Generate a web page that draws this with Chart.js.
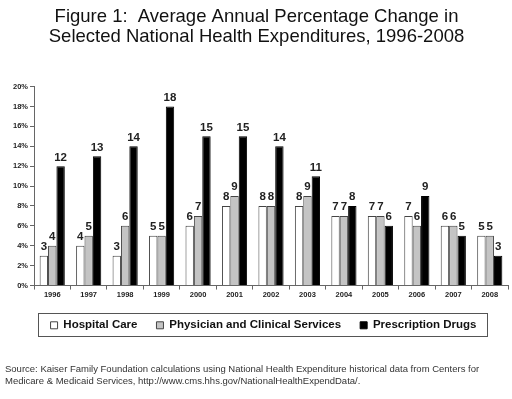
<!doctype html>
<html lang="en">
<head>
<meta charset="utf-8">
<style>
  html, body { margin: 0; padding: 0; background: #fff; }
  #wrap { width: 512px; height: 399px; position: relative; }
</style>
</head>
<body>
<div id="wrap"><canvas id="healthChart"></canvas></div>

<script src="https://cdn.jsdelivr.net/npm/chart.js"></script>
<script>
  // data
  var years = ['1996', '1997', '1998', '1999', '2000', '2001', '2002', '2003', '2004', '2005', '2006', '2007', '2008'];
  var hospitalCare = [3, 4, 3, 5, 6, 8, 8, 8, 7, 7, 7, 6, 5];
  var physicianServices = [4, 5, 6, 5, 7, 9, 8, 9, 7, 7, 6, 6, 5];
  var prescriptionDrugs = [12, 13, 14, 18, 15, 15, 14, 11, 8, 6, 9, 5, 3];
  var seriesNames = ['Hospital Care', 'Physician and Clinical Services', 'Prescription Drugs'];
  var titleLines = ['Figure 1:  Average Annual Percentage Change in', 'Selected National Health Expenditures, 1996-2008'];
  var sourceLines = [
    'Source: Kaiser Family Foundation calculations using National Health Expenditure historical data from Centers for',
    'Medicare & Medicaid Services, http://www.cms.hhs.gov/NationalHealthExpendData/.'
  ];

  // value labels over each bar
  var barValues = {
    id: 'barValues',
    afterDatasetsDraw: function(chart) {
      var ctx = chart.ctx;
      ctx.save();
      ctx.font = 'bold 11.5px Arial, "Liberation Sans", sans-serif';
      ctx.fillStyle = '#222';
      ctx.textAlign = 'center';
      ctx.textBaseline = 'bottom';
      chart.data.datasets.forEach(function(ds, i) {
        chart.getDatasetMeta(i).data.forEach(function(bar, j) {
          ctx.fillText(ds.data[j], bar.x, bar.y - 3);
        });
      });
      ctx.restore();
    }
  };

  // nudge the legend a little to the right, then frame it
  var legendFrame = {
    id: 'legendFrame',
    afterLayout: function(chart) {
      if (chart.legend) {
        chart.legend.left += 7;
        chart.legend.right += 7;
      }
    },
    afterDraw: function(chart) {
      var lg = chart.legend;
      if (!lg || !lg.legendItems.length) return;
      var first = lg.legendHitBoxes[0];
      var last = lg.legendHitBoxes[lg.legendHitBoxes.length - 1];
      var ctx = chart.ctx;
      ctx.save();
      ctx.strokeStyle = '#555';
      ctx.lineWidth = 1;
      var x0 = Math.round(first.left - 13) + 0.5;
      var x1 = Math.round(last.left + last.width + 11) + 0.5;
      var yc = first.top + first.height / 2;
      var y0 = Math.round(yc - 12) + 0.5;
      ctx.strokeRect(x0, y0, x1 - x0, 23);
      ctx.restore();
    }
  };

  var ctx = document.getElementById('healthChart').getContext('2d');
  window.myBar = new Chart(ctx, {
    type: 'bar',
    data: {
      labels: years,
      datasets: [{
        label: seriesNames[0],
        data: hospitalCare,
        backgroundColor: '#ffffff',
        borderColor: '#444',
        borderWidth: 1
      }, {
        label: seriesNames[1],
        data: physicianServices,
        backgroundColor: '#c4c4c4',
        borderColor: '#444',
        borderWidth: 1
      }, {
        label: seriesNames[2],
        data: prescriptionDrugs,
        backgroundColor: '#000000',
        borderColor: '#000',
        borderWidth: 1
      }]
    },
    plugins: [barValues, legendFrame],
    options: {
      responsive: true,
      maintainAspectRatio: false,
      animation: false,
      layout: { padding: { left: 5, right: 4, top: 0, bottom: 0 } },
      datasets: { bar: { categoryPercentage: 0.69, barPercentage: 1 } },
      scales: {
        x: {
          grid: { display: true, drawOnChartArea: false, offset: true, tickLength: 4, color: '#666' },
          border: { color: '#666' },
          ticks: { color: '#222', font: { family: 'Arial', size: 7.5, weight: 'bold' }, padding: 1 }
        },
        y: {
          min: 0,
          max: 20,
          afterFit: function(scale) { scale.width = 29; },
          grid: { display: true, drawOnChartArea: false, tickLength: 4, color: '#666' },
          border: { color: '#666' },
          ticks: {
            stepSize: 2,
            color: '#222',
            font: { family: 'Arial', size: 7.5, weight: 'bold' },
            padding: 2,
            callback: function(v) { return v + '%'; }
          }
        }
      },
      plugins: {
        title: {
          display: true,
          text: titleLines,
          color: '#111',
          font: { family: 'Arial', size: 18.5, weight: 'normal', lineHeight: 1.07 },
          padding: { top: 7, bottom: 40 }
        },
        subtitle: {
          display: true,
          position: 'bottom',
          align: 'start',
          text: sourceLines,
          color: '#333',
          font: { family: 'Arial', size: 9.5, weight: 'normal', lineHeight: 1.26 },
          padding: { top: 22, bottom: 12 }
        },
        legend: {
          position: 'bottom',
          labels: {
            boxWidth: 7,
            boxHeight: 7,
            padding: 19,
            color: '#111',
            font: { family: 'Arial', size: 11.5, weight: 'bold' }
          }
        },
        tooltip: { enabled: false }
      }
    }
  });
</script>
</body>
</html>
